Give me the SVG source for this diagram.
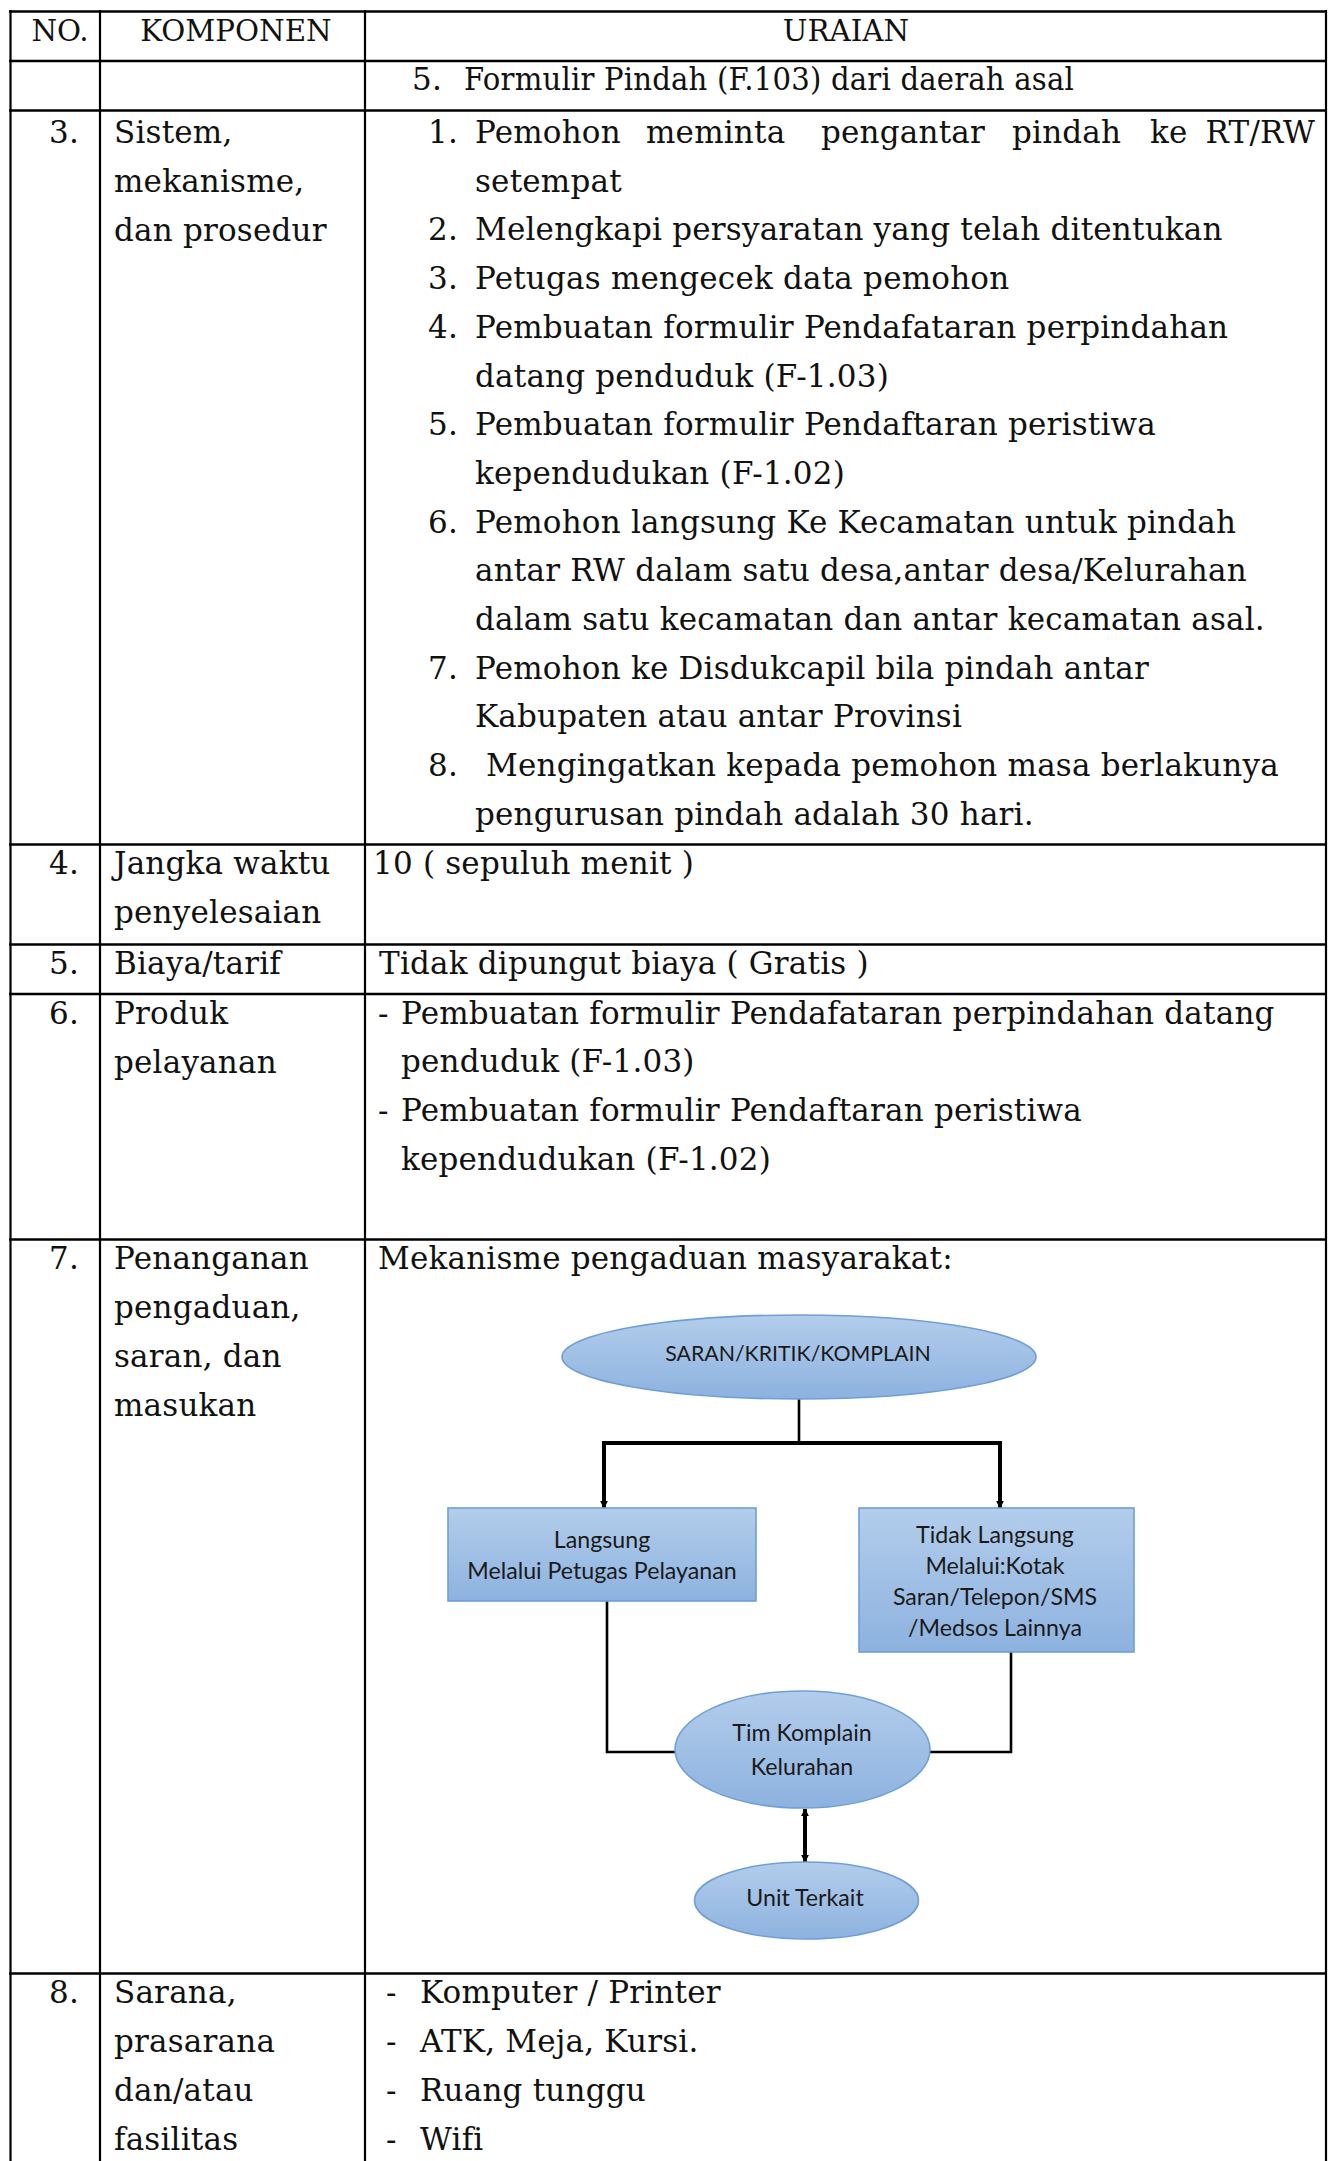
<svg xmlns="http://www.w3.org/2000/svg" width="1328" height="2161" viewBox="0 0 1328 2161">
  <style>
    .t { font-family: "DejaVu Serif", "Liberation Serif", serif; font-size: 31px; letter-spacing: 0.2px; fill: #111; }
    .hd { font-size: 29.3px; letter-spacing: 0; }
    .c { text-anchor: middle; }
    .e { text-anchor: end; }
    .grid line { stroke: #000; }
    .h { stroke-width: 2.6; }
    .v { stroke-width: 2.2; }
    .node text { font-family: Lato, "Open Sans", "Liberation Sans", sans-serif; font-size: 23.2px; fill: #1a1a1a; text-anchor: middle; }
    .node text.caps { font-size: 21.3px; }
    .shape { fill: url(#blueFill); stroke: #6e9fd7; stroke-width: 1.6; }
    .wire { fill: none; stroke: #000; stroke-width: 2.6; }
    .wire.thick { stroke-width: 4; }
  </style>
  <defs>
    <linearGradient id="blueFill" x1="0" y1="0" x2="0" y2="1">
      <stop offset="0" stop-color="#b3cdeb"/>
      <stop offset="1" stop-color="#8db2df"/>
    </linearGradient>
    <marker id="head" viewBox="0 0 10 10" refX="9" refY="5" markerWidth="8" markerHeight="11" markerUnits="userSpaceOnUse" orient="auto-start-reverse">
      <path d="M0,0 L10,5 L0,10 z" fill="#000"/>
    </marker>
  </defs>

  <rect width="1328" height="2161" fill="#fff"/>

  <!-- table grid -->
  <g class="grid">
    <line class="v" x1="10.5" y1="10" x2="10.5" y2="2161"/>
    <line class="v" x1="100" y1="10" x2="100" y2="2161"/>
    <line class="v" x1="365" y1="10" x2="365" y2="2161"/>
    <line class="v" x1="1326" y1="10" x2="1326" y2="2161"/>
    <line class="h" x1="9" y1="11.5" x2="1327" y2="11.5"/>
    <line class="h" x1="9" y1="61" x2="1327" y2="61"/>
    <line class="h" x1="9" y1="110.5" x2="1327" y2="110.5"/>
    <line class="h" x1="9" y1="844.5" x2="1327" y2="844.5"/>
    <line class="h" x1="9" y1="944.5" x2="1327" y2="944.5"/>
    <line class="h" x1="9" y1="994" x2="1327" y2="994"/>
    <line class="h" x1="9" y1="1239.5" x2="1327" y2="1239.5"/>
    <line class="h" x1="9" y1="1973.5" x2="1327" y2="1973.5"/>
  </g>

  <!-- header -->
  <g id="header">
    <text class="t hd c" x="60" y="41">NO.</text>
    <text class="t hd c" x="236" y="41">KOMPONEN</text>
    <text class="t hd c" x="846" y="41">URAIAN</text>
  </g>

  <!-- continued requirement line -->
  <g id="row-2">
    <text class="t" x="412" y="90">5.</text>
    <text class="t" x="464" y="90" textLength="610" lengthAdjust="spacingAndGlyphs">Formulir Pindah (F.103) dari daerah asal</text>
  </g>

  <!-- 3. procedure -->
  <g id="row-3">
    <text class="t" x="49" y="143">3.</text>
    <text class="t" x="114" y="143">Sistem,</text>
    <text class="t" x="114" y="192">mekanisme,</text>
    <text class="t" x="114" y="241">dan prosedur</text>

    <text class="t" x="428" y="143">1.</text>
    <text class="t" x="475" y="143">Pemohon</text>
    <text class="t" x="646" y="143">meminta</text>
    <text class="t" x="821" y="143">pengantar</text>
    <text class="t" x="1012" y="143">pindah</text>
    <text class="t" x="1150" y="143">ke</text>
    <text class="t e" x="1315" y="143">RT/RW</text>
    <text class="t" x="475" y="191.7">setempat</text>
    <text class="t" x="428" y="240.4">2.</text>
    <text class="t" x="475" y="240.4">Melengkapi persyaratan yang telah ditentukan</text>
    <text class="t" x="428" y="289">3.</text>
    <text class="t" x="475" y="289">Petugas mengecek data pemohon</text>
    <text class="t" x="428" y="337.8">4.</text>
    <text class="t" x="475" y="337.8">Pembuatan formulir Pendafataran perpindahan</text>
    <text class="t" x="475" y="386.5">datang penduduk (F-1.03)</text>
    <text class="t" x="428" y="435.2">5.</text>
    <text class="t" x="475" y="435.2">Pembuatan formulir Pendaftaran peristiwa</text>
    <text class="t" x="475" y="484">kependudukan (F-1.02)</text>
    <text class="t" x="428" y="532.6">6.</text>
    <text class="t" x="475" y="532.6">Pemohon langsung Ke Kecamatan untuk pindah</text>
    <text class="t" x="475" y="581.3">antar RW dalam satu desa,antar desa/Kelurahan</text>
    <text class="t" x="475" y="630">dalam satu kecamatan dan antar kecamatan asal.</text>
    <text class="t" x="428" y="678.7">7.</text>
    <text class="t" x="475" y="678.7">Pemohon ke Disdukcapil bila pindah antar</text>
    <text class="t" x="475" y="727.4">Kabupaten atau antar Provinsi</text>
    <text class="t" x="428" y="776">8.</text>
    <text class="t" x="486" y="776">Mengingatkan kepada pemohon masa berlakunya</text>
    <text class="t" x="475" y="824.8">pengurusan pindah adalah 30 hari.</text>
  </g>

  <!-- 4. duration -->
  <g id="row-4">
    <text class="t" x="49" y="874">4.</text>
    <text class="t" x="114" y="874">Jangka waktu</text>
    <text class="t" x="114" y="923">penyelesaian</text>
    <text class="t" x="373" y="874">10 ( sepuluh menit )</text>
  </g>

  <!-- 5. fee -->
  <g id="row-5">
    <text class="t" x="49" y="974">5.</text>
    <text class="t" x="114" y="974">Biaya/tarif</text>
    <text class="t" x="379" y="974">Tidak dipungut biaya ( Gratis )</text>
  </g>

  <!-- 6. products -->
  <g id="row-6">
    <text class="t" x="49" y="1024">6.</text>
    <text class="t" x="114" y="1024">Produk</text>
    <text class="t" x="114" y="1073">pelayanan</text>
    <text class="t" x="378" y="1024">-</text>
    <text class="t" x="401" y="1024">Pembuatan formulir Pendafataran perpindahan datang</text>
    <text class="t" x="401" y="1072">penduduk (F-1.03)</text>
    <text class="t" x="378" y="1121">-</text>
    <text class="t" x="401" y="1121">Pembuatan formulir Pendaftaran peristiwa</text>
    <text class="t" x="401" y="1170">kependudukan (F-1.02)</text>
  </g>

  <!-- 7. complaints -->
  <g id="row-7">
    <text class="t" x="49" y="1269">7.</text>
    <text class="t" x="114" y="1269">Penanganan</text>
    <text class="t" x="114" y="1318">pengaduan,</text>
    <text class="t" x="114" y="1367">saran, dan</text>
    <text class="t" x="114" y="1416">masukan</text>
    <text class="t" x="378" y="1269">Mekanisme pengaduan masyarakat:</text>
  </g>

  <!-- complaint flow connectors -->
  <g id="connectors">
    <path class="wire" d="M799,1398 V1443"/>
    <path class="wire thick" d="M602,1443 H1002"/>
    <path class="wire thick" d="M604,1443 V1508" marker-end="url(#head)"/>
    <path class="wire thick" d="M1000,1443 V1508" marker-end="url(#head)"/>
    <path class="wire" d="M607,1601 V1752 H676"/>
    <path class="wire" d="M1011,1652 V1752 H929"/>
    <path class="wire thick" d="M805,1809 V1862" marker-start="url(#head)" marker-end="url(#head)"/>
  </g>

  <g id="node-saran" class="node">
    <ellipse class="shape" cx="799" cy="1357" rx="237" ry="42"/>
    <text class="caps" x="798" y="1361">SARAN/KRITIK/KOMPLAIN</text>
  </g>

  <g id="node-langsung" class="node">
    <rect class="shape" x="448" y="1508" width="308" height="93"/>
    <text x="602" y="1548">Langsung</text>
    <text x="602" y="1579">Melalui Petugas Pelayanan</text>
  </g>

  <g id="node-tidak-langsung" class="node">
    <rect class="shape" x="859" y="1508" width="275" height="144"/>
    <text x="995" y="1543">Tidak Langsung</text>
    <text x="995" y="1574">Melalui:Kotak</text>
    <text x="995" y="1605">Saran/Telepon/SMS</text>
    <text x="995" y="1636">/Medsos Lainnya</text>
  </g>

  <g id="node-tim" class="node">
    <ellipse class="shape" cx="802.5" cy="1749.5" rx="127.5" ry="58.5"/>
    <text x="802" y="1741">Tim Komplain</text>
    <text x="802" y="1775">Kelurahan</text>
  </g>

  <g id="node-unit" class="node">
    <ellipse class="shape" cx="806.5" cy="1900.5" rx="112" ry="38.5"/>
    <text x="805" y="1906">Unit Terkait</text>
  </g>

  <!-- 8. facilities -->
  <g id="row-8">
    <text class="t" x="49" y="2003">8.</text>
    <text class="t" x="114" y="2003">Sarana,</text>
    <text class="t" x="114" y="2052">prasarana</text>
    <text class="t" x="114" y="2101">dan/atau</text>
    <text class="t" x="114" y="2150">fasilitas</text>
    <text class="t" x="386" y="2003">-</text>
    <text class="t" x="420" y="2003">Komputer / Printer</text>
    <text class="t" x="386" y="2052">-</text>
    <text class="t" x="420" y="2052">ATK, Meja, Kursi.</text>
    <text class="t" x="386" y="2101">-</text>
    <text class="t" x="420" y="2101">Ruang tunggu</text>
    <text class="t" x="386" y="2150">-</text>
    <text class="t" x="420" y="2150">Wifi</text>
  </g>
</svg>
